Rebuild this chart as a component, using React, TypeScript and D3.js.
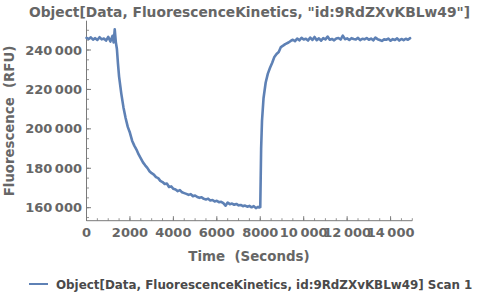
import React from "react";
import * as d3 from "d3";

const titleText = 'Object[Data, FluorescenceKinetics, "id:9RdZXvKBLw49"]';
const legendText = "Object[Data, FluorescenceKinetics, id:9RdZXvKBLw49] Scan 1";
const xLabel = "Time  (Seconds)";
const yLabel = "Fluorescence  (RFU)";

const xTicks = [0, 2000, 4000, 6000, 8000, 10000, 12000, 14000];
const yTicks = [160000, 180000, 200000, 220000, 240000];

const times = [
  0, 100, 200, 300, 400, 500, 600, 700, 800, 900, 1000, 1100, 1200, 1250, 1300, 1350,
  1400, 1450, 1500, 1600, 1700, 1800, 1900, 2000, 2100, 2200, 2300, 2400, 2500, 2600,
  2700, 2800, 2900, 3000, 3100, 3200, 3300, 3400, 3500, 3600, 3700, 3800, 3900, 4000,
  4100, 4200, 4300, 4400, 4500, 4600, 4700, 4800, 4900, 5000, 5100, 5200, 5300, 5400,
  5500, 5600, 5700, 5800, 5900, 6000, 6100, 6200, 6300, 6400, 6500, 6600, 6700, 6800,
  6900, 7000, 7100, 7200, 7300, 7400, 7500, 7600, 7700, 7800, 7900, 7950, 8000, 8020,
  8040, 8080, 8150, 8250, 8350, 8450, 8550, 8650, 8750, 8850, 8950, 9050, 9150, 9300,
  9400, 9500, 9600, 9700, 9800, 9900, 10000, 10100, 10200, 10300, 10400, 10500, 10600,
  10700, 10800, 10900, 11000, 11100, 11200, 11300, 11400, 11500, 11600, 11700, 11800,
  11900, 12000, 12100, 12200, 12300, 12400, 12500, 12600, 12700, 12800, 12900, 13000,
  13100, 13200, 13300, 13400, 13500, 13600, 13700, 13800, 13900, 14000, 14100, 14200,
  14300, 14400, 14500, 14600, 14700, 14800, 14900,
];

const fluorescence = [
  246200, 245600, 246400, 245300, 246000, 245100, 246500, 245400, 245800, 244800, 246700,
  244300, 247200, 243800, 250500, 244000, 240500, 233000, 226500, 218000, 211000, 205500,
  201000, 198000, 194000, 191500, 189500, 187000, 185000, 183000, 181500, 180200, 178500,
  177500, 176800, 175500, 175000, 173600, 173000, 172000, 172300, 170500, 170800, 169600,
  169200, 168400, 168900, 167800, 167400, 167000, 166500, 166900, 165800, 166200, 165400,
  165000, 165300, 164500, 164200, 164600, 163700, 163900, 163200, 163500, 162800, 163000,
  162300, 161000, 162600, 161800, 162100, 161500, 161900, 161200, 161400, 160800, 161100,
  160500, 160900, 160200, 160800, 159800, 160400, 160100, 160300, 175000, 190000, 204000,
  215500, 223500, 228000, 231000, 233500, 236500, 238000, 239000, 241500, 242200, 243000,
  243800, 244600, 245200, 244500, 245800, 244900, 246200, 245300, 245700, 244800, 246300,
  245100, 246600, 245000, 245900, 244700, 246000, 245400, 246800, 245200, 245600, 244900,
  245800, 246100, 245300, 247300, 245500, 245900, 245100, 246000, 245600, 245300, 246200,
  245000, 245700, 245400, 246100, 245200, 245800, 244900, 246300, 245500, 245100, 244600,
  245400, 245200, 245800, 244700, 245500, 245100, 245900, 244800, 245600, 245000, 245700,
  245200, 246000,
];

const W = 500;
const H = 299;
const left = 86.5;
const right = 412.3;
const top = 20.7;
const bottom = 220.7;

const x = d3.scaleLinear().domain([0, 15000]).range([left, right]);
const y = d3.scaleLinear().domain([160000, 240000]).range([207.7, 50]);

const fmt = (v: number) => {
  if (v < 10000) return String(v);
  const s = String(v);
  return s.slice(0, s.length - 3) + "\u2009" + s.slice(s.length - 3);
};

export default function App() {
  const pts = times.map((t, i) => [t, fluorescence[i]] as [number, number]);
  const line = d3
    .line<[number, number]>()
    .x((d) => x(d[0]))
    .y((d) => y(d[1]));

  const xMinor = d3.range(0, 15001, 500);
  const yMinor = d3.range(155000, 255001, 5000).filter((v) => y(v) >= top && y(v) <= bottom);
  const axisColor = "#7a7a7a";
  const labelColor = "#666666";
  const font = "'DejaVu Sans', sans-serif";

  return (
    <svg
      width={W}
      height={H}
      style={{ position: "absolute", left: 0, top: 0, background: "white" }}
      fontFamily={font}
    >
      <text x={249.5} y={17} textAnchor="middle" fontSize={13.8} fontWeight="bold" fill={labelColor}>
        {titleText}
      </text>
      <line x1={left} x2={left} y1={top} y2={bottom} stroke={axisColor} strokeWidth={1} />
      <line x1={left} x2={right} y1={bottom} y2={bottom} stroke={axisColor} strokeWidth={1} />
      {yMinor.map((v) => (
        <line key={"ym" + v} x1={left} x2={left + 2.5} y1={y(v)} y2={y(v)} stroke={axisColor} strokeWidth={0.8} />
      ))}
      {yTicks.map((v) => (
        <g key={"y" + v}>
          <line x1={left} x2={left + 4.5} y1={y(v)} y2={y(v)} stroke={axisColor} strokeWidth={1} />
          <text x={82} y={y(v)} dy="0.35em" textAnchor="end" fontSize={13} fontWeight="bold" fill={labelColor}>
            {fmt(v)}
          </text>
        </g>
      ))}
      {xMinor.map((v) => (
        <line key={"xm" + v} x1={x(v)} x2={x(v)} y1={bottom} y2={bottom - 2.5} stroke={axisColor} strokeWidth={0.8} />
      ))}
      {xTicks.map((v) => (
        <g key={"x" + v}>
          <line x1={x(v)} x2={x(v)} y1={bottom} y2={bottom - 4.5} stroke={axisColor} strokeWidth={1} />
          <text x={x(v)} y={237} textAnchor="middle" fontSize={13} fontWeight="bold" fill={labelColor}>
            {fmt(v)}
          </text>
        </g>
      ))}
      <text
        x={249}
        y={260.5}
        textAnchor="middle"
        fontSize={13.4}
        fontWeight="bold"
        fill={labelColor}
        style={{ whiteSpace: "pre" }}
      >
        {xLabel}
      </text>
      <text
        transform={`translate(14,${121}) rotate(-90)`}
        textAnchor="middle"
        fontSize={13.3}
        fontWeight="bold"
        fill={labelColor}
        style={{ whiteSpace: "pre" }}
      >
        {yLabel}
      </text>
      <path
        d={line(pts) || ""}
        fill="none"
        stroke="#5e81b5"
        strokeWidth={2.6}
        strokeLinejoin="round"
        strokeLinecap="round"
      />
      <line x1={29} x2={48} y1={284} y2={284} stroke="#5e81b5" strokeWidth={2} />
      <text x={56} y={288.5} fontSize={11.9} fontWeight="bold" fill="#4a4a4a">
        {legendText}
      </text>
    </svg>
  );
}
